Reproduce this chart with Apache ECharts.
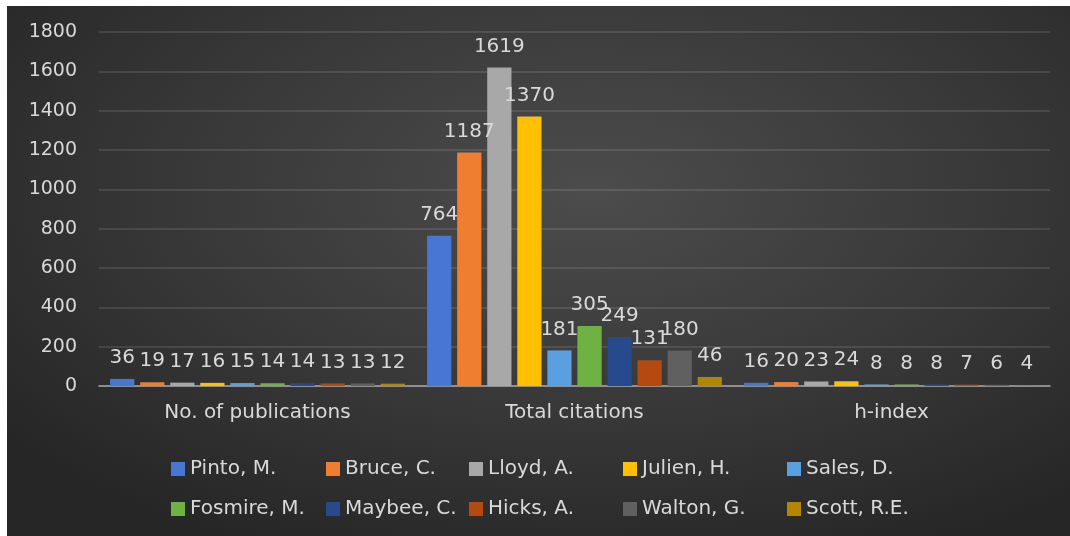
<!DOCTYPE html>
<html>
<head>
<meta charset="utf-8">
<script src="https://cdn.jsdelivr.net/npm/echarts@6/dist/echarts.min.js"></script>
<style>
	html, body { margin: 0; padding: 0; background: #fff; }
	#chart {
		position: absolute;
		left: 7px;
		top: 6px;
		width: 1063px;
		height: 530px;
		background: radial-gradient(ellipse 70% 75% at 55% 35%, #4c4c4c 0%, #383838 55%, #262626 100%);
	}
</style>
</head>
<body>
<div id="chart"></div>
<script>
var categories = ["No. of publications", "Total citations", "h-index"];
var authors = ["Pinto, M.", "Bruce, C.", "Lloyd, A.", "Julien, H.", "Sales, D.", "Fosmire, M.", "Maybee, C.", "Hicks, A.", "Walton, G.", "Scott, R.E."];
var publications = [36, 19, 17, 16, 15, 14, 14, 13, 13, 12];
var citations = [764, 1187, 1619, 1370, 181, 305, 249, 131, 180, 46];
var hIndex = [16, 20, 23, 24, 8, 8, 8, 7, 6, 4];
var yTicks = [0, 200, 400, 600, 800, 1000, 1200, 1400, 1600, 1800];

var color = ["#4677d4", "#f07e30", "#a8a8a8", "#fec000", "#5a9fe0", "#6fb244", "#264a8c", "#b44a10", "#606060", "#b38600"];
var font = "DejaVu Sans";
var textColor = "#d9d9d9";

var myChart = echarts.init(document.getElementById("chart"), null, { renderer: "canvas" });

var series = authors.map(function (name, i) {
	return {
		name: name,
		type: "bar",
		barGap: "24%",
		barCategoryGap: "7%",
		label: {
			show: true,
			position: "top",
			distance: 11,
			color: textColor,
			fontFamily: font,
			fontSize: 20
		},
		data: [publications[i], citations[i], hIndex[i]]
	};
});

// 每欄一個直向圖例，讓兩列對齊
var legendLeft = [159, 314, 457, 611, 775];
var legends = legendLeft.map(function (x, c) {
	return {
		orient: "vertical",
		left: x,
		top: 448,
		itemWidth: 14,
		itemHeight: 14,
		itemGap: 20,
		icon: "rect",
		textStyle: { color: textColor, fontFamily: font, fontSize: 20 },
		data: [authors[c], authors[c + 5]]
	};
});

var option = {
	animation: false,
	color: color,
	legend: legends,
	grid: {
		left: 92,
		right: 20,
		top: 26,
		bottom: 150
	},
	xAxis: {
		type: "category",
		data: categories,
		axisTick: { show: false },
		axisLine: { lineStyle: { color: "#a6a6a6", width: 1.5 } },
		axisLabel: { color: textColor, fontFamily: font, fontSize: 20, margin: 17 }
	},
	yAxis: {
		type: "value",
		min: yTicks[0],
		max: yTicks[yTicks.length - 1],
		interval: yTicks[1] - yTicks[0],
		axisLine: { show: false },
		axisTick: { show: false },
		axisLabel: {
			color: textColor,
			fontFamily: font,
			fontSize: 19,
			margin: 22,
			formatter: function (v) { return String(v); }
		},
		splitLine: { lineStyle: { color: "rgba(255,255,255,0.14)", width: 1.5 } }
	},
	series: series
};
myChart.setOption(option);
</script>
</body>
</html>
